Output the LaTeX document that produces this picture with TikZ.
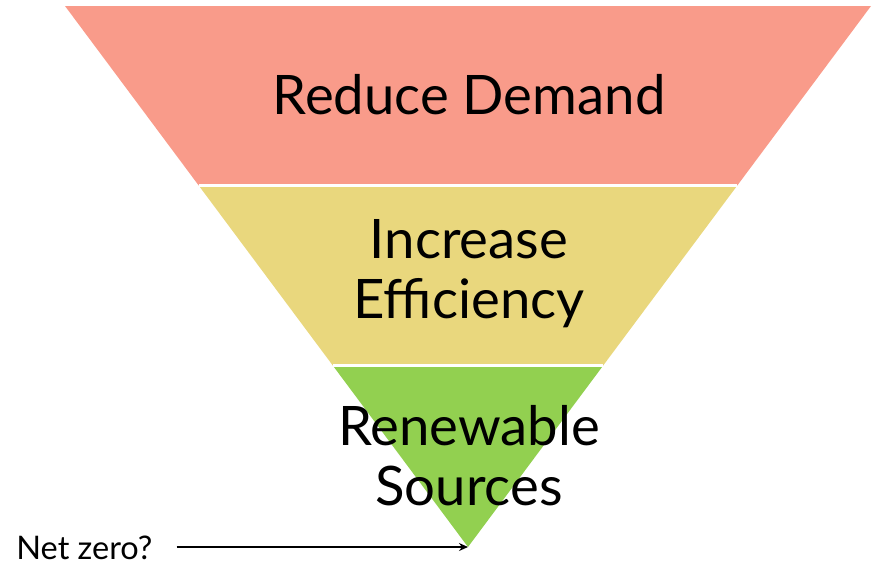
\documentclass[tikz,border=0pt]{standalone}
\usepackage{fontspec}
\setmainfont{Lato}
\usepackage{xcolor}
\usetikzlibrary{arrows.meta,positioning,calc}
\definecolor{bandred}{RGB}{249,155,138}
\definecolor{bandyellow}{RGB}{233,215,125}
\definecolor{bandgreen}{RGB}{146,208,80}
\tikzset{
  band/.style={draw=none},
  sep/.style={draw=white, line width=0.06cm},
  lbl/.style={font=\fontsize{31}{34}\selectfont, align=center, inner sep=0pt},
  small/.style={font=\fontsize{18.5}{21}\selectfont, inner sep=0pt},
  arr/.style={-{Stealth[length=1.8mm,width=1.6mm]}, black, line width=0.045cm},
}
\begin{document}
\begin{tikzpicture}[x=0.02cm, y=-0.02cm]
  \useasboundingbox (0,0) rectangle (886,579);
  \coordinate (tl) at (65,6);
  \coordinate (tr) at (871,6);
  \coordinate (apex) at (468,547);
  \coordinate (l1) at ($(tl)!0.3315!(apex)$);
  \coordinate (r1) at ($(tr)!0.3315!(apex)$);
  \coordinate (l2) at ($(tl)!0.6648!(apex)$);
  \coordinate (r2) at ($(tr)!0.6648!(apex)$);
  % the three bands
  \fill[bandred] (tl) -- (tr) -- (r1) -- (l1) -- cycle;
  \fill[bandyellow] (l1) -- (r1) -- (r2) -- (l2) -- cycle;
  \fill[bandgreen] (l2) -- (r2) -- (apex) -- cycle;
  \draw[sep] (l1) -- (r1);
  \draw[sep] (l2) -- (r2);
  % labels
  \node[lbl] (demand) at (469,95) {Reduce Demand};
  \node[lbl] (effic) at (469,274) {Increase\\Efficiency};
  \node[lbl] (renew) at (469,456) {Renewable\\Sources};
  \node[small, anchor=base west] (net) at (16,559) {Net zero?};
  \draw[arr] ($(net.east |- apex)+(24,0)$) -- (apex);
\end{tikzpicture}
\end{document}
